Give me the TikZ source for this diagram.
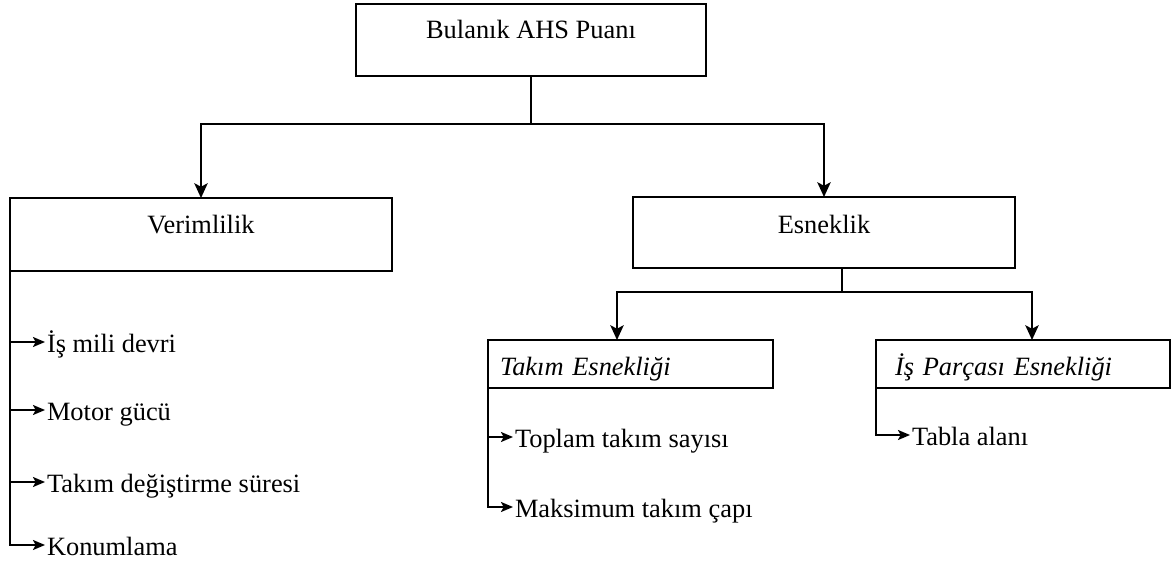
\documentclass[tikz,border=0pt]{standalone}
\usepackage{fontspec}
\setmainfont{Liberation Serif}
\usetikzlibrary{arrows.meta}
\begin{document}
\begin{tikzpicture}[x=0.75pt,y=-0.75pt,
  every node/.style={font=\fontsize{19.8}{24}\selectfont},
  box/.style={draw, line width=1.4pt, inner xsep=0pt, inner ysep=0pt, outer sep=0pt, anchor=north west},
  conn/.style={line width=1.4pt},
  bigarrow/.style={conn, -{Stealth[length=11pt,width=10pt,inset=2.5pt]}},
  smallarrow/.style={conn, -{Stealth[length=9pt,width=7.5pt,inset=2pt]}},
  item/.style={anchor=west, inner ysep=0pt, inner xsep=1.5pt, outer sep=0pt, text height=15pt, text depth=0pt}
]
\useasboundingbox (0,0) rectangle (1172,575);

% boxes
\node[box, minimum width=262.5pt, text height=25.5pt, text depth=28.5pt] (top) at (356,4) {Bulanık AHS Puanı};
\node[box, minimum width=286.5pt, text height=26.25pt, text depth=28.5pt] (verim) at (10,198) {Verimlilik};
\node[box, minimum width=286.5pt, text height=27pt, text depth=26.25pt] (esnek) at (633,197) {Esneklik};
\node[box, inner xsep=9pt, text width=195.75pt, align=left, text height=26.25pt, text depth=9.75pt] (takim) at (488,340) {\itshape Takım Esnekliği};
\node[box, inner xsep=14.25pt, text width=192pt, align=left, text height=26.25pt, text depth=9.75pt] (parca) at (876,340) {\itshape İş Parçası Esnekliği};

% items
\node[item] (i1) at (45,342) {İş mili devri};
\node[item] (i2) at (45,410) {Motor gücü};
\node[item] (i3) at (45,482) {Takım değiştirme süresi};
\node[item] (i4) at (45,545) {Konumlama};
\node[item] (t1) at (513,437) {Toplam takım sayısı};
\node[item] (t2) at (513,507) {Maksimum takım çapı};
\node[item] (p1) at (910,435) {Tabla alanı};

% top connectors
\coordinate (j1) at (531,124);
\draw[conn] (top.south) -- (j1);
\draw[bigarrow] (j1) -| (verim.north);
\draw[bigarrow] (j1) -| (esnek.north);

% esneklik connectors
\coordinate (j2) at (842,292);
\coordinate (ta) at (617,292);
\coordinate (pa) at (1032,292);
\draw[conn] (esnek.south -| j2) -- (j2);
\draw[bigarrow] (j2) -- (ta) -- (takim.north -| ta);
\draw[bigarrow] (j2) -- (pa) -- (parca.north -| pa);

% verimlilik items
\draw[smallarrow] (verim.south west) |- (i4.west);
\draw[smallarrow] (verim.south west |- i1.west) -- (i1.west);
\draw[smallarrow] (verim.south west |- i2.west) -- (i2.west);
\draw[smallarrow] (verim.south west |- i3.west) -- (i3.west);

% takim items
\draw[smallarrow] (takim.south west) |- (t2.west);
\draw[smallarrow] (takim.south west |- t1.west) -- (t1.west);

% parca items
\draw[smallarrow] (parca.south west) |- (p1.west);
\end{tikzpicture}
\end{document}
